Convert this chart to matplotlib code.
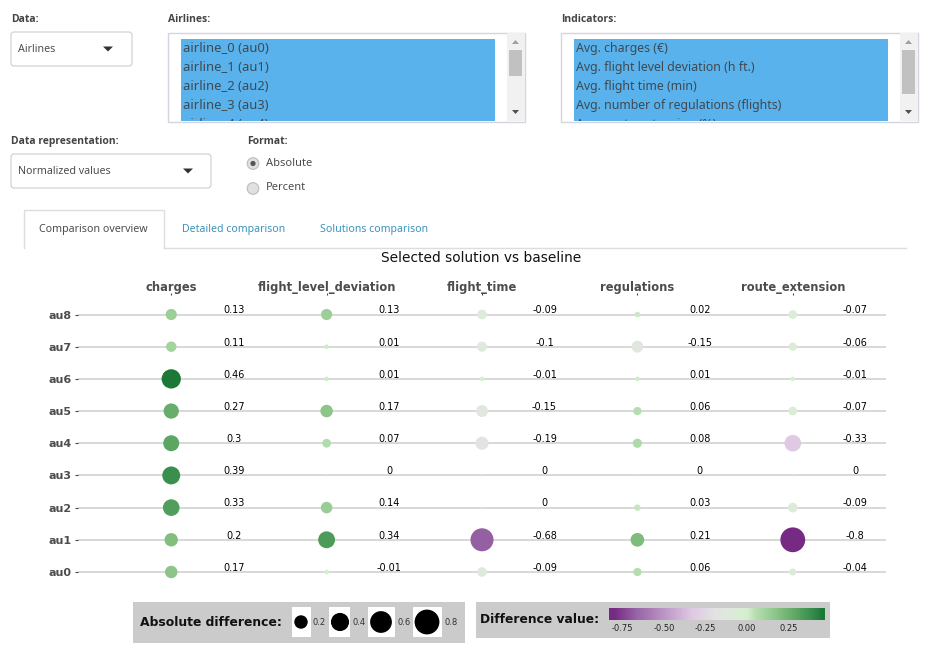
import matplotlib
matplotlib.use('Agg')
import matplotlib.pyplot as plt
from matplotlib.colors import LinearSegmentedColormap, Normalize
from matplotlib.patches import FancyBboxPatch, Rectangle, Circle, Polygon
import numpy as np

W, H = 934, 663

airlines = ["au0", "au1", "au2", "au3", "au4", "au5", "au6", "au7", "au8"]
indicators = ["charges", "flight_level_deviation", "flight_time", "regulations", "route_extension"]

charges = [0.17, 0.2, 0.33, 0.39, 0.3, 0.27, 0.46, 0.11, 0.13]
flight_level_deviation = [-0.01, 0.34, 0.14, 0, 0.07, 0.17, 0.01, 0.01, 0.13]
flight_time = [-0.09, -0.68, 0, 0, -0.19, -0.15, -0.01, -0.1, -0.09]
regulations = [0.06, 0.21, 0.03, 0, 0.08, 0.06, 0.01, -0.15, 0.02]
route_extension = [-0.04, -0.8, -0.09, 0, -0.33, -0.07, -0.01, -0.06, -0.07]
series = [charges, flight_level_deviation, flight_time, regulations, route_extension]

size_legend = [0.2, 0.4, 0.6, 0.8]
color_ticks = [-0.75, -0.5, -0.25, 0.0, 0.25]

airline_items = ["airline_0 (au0)", "airline_1 (au1)", "airline_2 (au2)", "airline_3 (au3)", "airline_4 (au4)"]
indicator_items = ["Avg. charges (€)", "Avg. flight level deviation (h ft.)", "Avg. flight time (min)",
                   "Avg. number of regulations (flights)", "Avg. route extension (%)"]

UI_FONT = "Noto Sans"
UI_BOLD = "Open Sans"
UI_GREY = "#4d4d4d"

# colour scale
vmin, vmax = -0.8, 0.46
stops = [(-0.8, "#762a83"), (-0.68, "#9560a4"), (-0.33, "#e0c9e5"), (-0.19, "#e3e3e3"), (-0.1, "#deeadb"),
         (0.0, "#d5efcf"), (0.06, "#b5deb0"), (0.13, "#9ccf98"), (0.21, "#80bd7d"), (0.3, "#5da663"),
         (0.39, "#3a8f4e"), (0.46, "#1b7837")]
cmap = LinearSegmentedColormap.from_list(
    "diff", [((v - vmin) / (vmax - vmin), c) for v, c in stops])
norm = Normalize(vmin, vmax)


def diameter(v):
    # circle diameter in px, area follows the absolute value
    return 2 + 25.5 * np.sqrt(abs(v))


fig = plt.figure(figsize=(W / 100, H / 100), dpi=100, facecolor="white")

# page widgets, drawn in pixel coordinates
ui = fig.add_axes([0, 0, 1, 1])
ui.set_xlim(0, W)
ui.set_ylim(H, 0)
ui.axis("off")


def label(x, y, s, size=7.7, color=UI_GREY, **kw):
    kw.setdefault("va", "center")
    kw.setdefault("family", UI_FONT)
    return ui.text(x, y, s, fontsize=size, color=color, **kw)


def heading(x, y, s):
    return label(x, y + 0.7, s, size=7.5, family=UI_BOLD, weight="bold", color="#444444")


def rect(x0, y0, x1, y1, fc, ec="none", lw=0, z=1):
    ui.add_patch(Rectangle((x0, y0), x1 - x0, y1 - y0, fc=fc, ec=ec, lw=lw, zorder=z))


def select_box(x, y, w, h, s, arrow_x):
    ui.add_patch(FancyBboxPatch((x + 3, y + 3), w - 6, h - 6, boxstyle="round,pad=3", fc="white",
                                ec="#cdcdcd", lw=0.8))
    label(x + 7, y + h / 2 + 0.5, s)
    ui.add_patch(Polygon([(arrow_x - 5, y + h / 2 - 2.5), (arrow_x + 5, y + h / 2 - 2.5), (arrow_x, y + h / 2 + 2.5)],
                         fc="#333333", ec="none"))


def list_box(x0, x1, sel0, items, thumb_h, size):
    rect(x0, 32.5, x1, 121.5, "white", "#d2d6e0", 1)
    rect(x1 - 18, 33, x1 - 0.5, 121, "#f1f1f1")
    rect(sel0, 39, x1 - 30, 121, "#59b2ec", z=2)
    clip = Rectangle((x0, 33), x1 - x0, 88, transform=ui.transData)
    for i, s in enumerate(items):
        t = label(sel0 + 2, 48.5 + i * 19, s, size=size, color="#3f4a52", zorder=3)
        t.set_clip_path(clip)
        t.set_clip_on(True)
    rect(x1 - 16, 50, x1 - 3, 50 + thumb_h, "#c1c1c1", z=3)
    ui.add_patch(Polygon([(x1 - 13, 44), (x1 - 6, 44), (x1 - 9.5, 40)], fc="#a0a0a0", ec="none", zorder=3))
    ui.add_patch(Polygon([(x1 - 13, 110), (x1 - 6, 110), (x1 - 9.5, 114)], fc="#505050", ec="none", zorder=3))


heading(11, 19, "Data:")
heading(168, 19, "Airlines:")
heading(561, 19, "Indicators:")
heading(11, 141, "Data representation:")
heading(247, 141, "Format:")

select_box(11, 32, 121, 34, "Airlines", 108)
select_box(11, 154, 200, 34, "Normalized values", 188)
list_box(168, 525, 181, airline_items, 26, 9.4)
list_box(561, 918, 574, indicator_items, 44, 8.9)

# radios
for y, s, on in [(163.5, "Absolute", True), (188.5, "Percent", False)]:
    ui.add_patch(Circle((253, y), 5.8, fc="#e0e0e0", ec="#bdbdbd", lw=0.8))
    if on:
        ui.add_patch(Circle((253, y), 2.6, fc="#555555", ec="none"))
    label(266, y - 0.5, s, size=8)

# tabs
ui.plot([164, 906], [247.5, 247.5], color="#dddddd", lw=1)
ui.plot([23.5, 23.5, 163.5, 163.5], [247.5, 209.5, 209.5, 247.5], color="#dddddd", lw=1)
label(93.5, 229.5, "Comparison overview", ha="center")
label(233.5, 229.5, "Detailed comparison", size=7.6, ha="center", color="#3b93bd")
label(374.5, 229.5, "Solutions comparison", size=7.6, ha="center", color="#3b93bd")

# main chart
left, right, top, bottom = 78, 886, 295, 590
ax = fig.add_axes([left / W, 1 - bottom / H, (right - left) / W, (bottom - top) / H])
ax.patch.set_alpha(0)
ax.set_xlim(-0.6, 4.6)
ax.set_ylim(-0.56, 8.606)
for sp in ax.spines.values():
    sp.set_visible(False)
ax.set_yticks(range(len(airlines)))
ax.set_yticklabels(airlines, fontsize=8, fontweight="bold", color="#4d4d4d")
ax.xaxis.tick_top()
ax.set_xticks(range(len(indicators)))
ax.set_xticklabels(indicators, fontsize=8.3, fontweight="bold", color="#4d4d4d")
ax.tick_params(axis="y", length=2, width=0.8, color="#444444", pad=2.5)
ax.tick_params(axis="x", length=1.5, width=0.8, color="#444444", pad=-0.5)
for r in range(len(airlines)):
    ax.axhline(r, color="#d8d8d8", lw=1.4, zorder=1)
for c, vals in enumerate(series):
    sizes = [(diameter(v) * 0.72) ** 2 for v in vals]
    ax.scatter([c] * len(vals), range(len(vals)), s=sizes, c=vals, cmap=cmap, norm=norm,
               linewidths=0, zorder=3)
    for r, v in enumerate(vals):
        ax.annotate(f"{v:g}", (c, r), xytext=(45, 3), textcoords="offset points", fontsize=7, color="black",
                    ha="center", va="center", zorder=4)
ui.text(481.5, 258, "Selected solution vs baseline", fontsize=9.9, color="#111111", ha="center", va="center")

# size legend
rect(133, 602, 465, 643, "#cbcbcb")
ui.text(140, 622.5, "Absolute difference:", fontsize=8.9, fontweight="bold", color="#111111", va="center", zorder=2)
for v, cx, x0, x1, tx in zip(size_legend, [301, 340, 381, 427], [292, 329, 368, 412.5], [311, 349.5, 395, 442],
                             [319.5, 359.5, 404, 451]):
    rect(x0, 607, x1, 637, "white", z=2)
    ui.add_patch(Circle((cx, 622), diameter(v) / 2, fc="black", ec="none", zorder=3))
    ui.text(tx, 622.5, f"{v:g}", fontsize=6, color="#333333", ha="center", va="center", zorder=3)

# colour legend
rect(476, 602, 830, 638, "#cbcbcb")
ui.text(480, 619.5, "Difference value:", fontsize=8.8, fontweight="bold", color="#111111", va="center", zorder=2)
cax = fig.add_axes([609 / W, 1 - 620 / H, 216 / W, 12.5 / H])
grad = np.linspace(-0.83, 0.47, 256).reshape(1, -1)
cax.imshow(grad, extent=(-0.83, 0.47, 0, 1), aspect="auto", cmap=cmap, norm=norm)
cax.set_yticks([])
cax.set_xticks(color_ticks)
cax.set_xticklabels([f"{v:.2f}" for v in color_ticks], fontsize=6, color="#222222")
cax.tick_params(axis="x", length=0, pad=3)
for sp in cax.spines.values():
    sp.set_visible(False)

fig.savefig("out.png", dpi=100)
